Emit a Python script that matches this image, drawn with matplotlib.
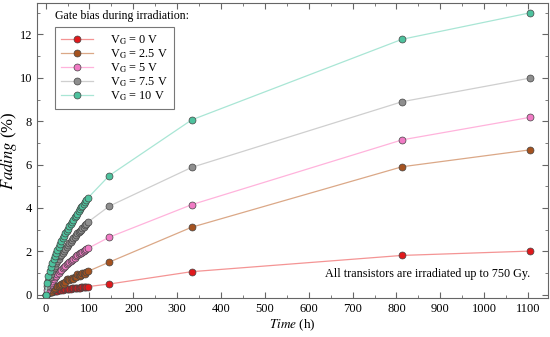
import matplotlib
matplotlib.use('Agg')
import matplotlib.pyplot as plt
from matplotlib.ticker import MultipleLocator

plt.rcParams['font.family'] = ['Liberation Serif', 'DejaVu Serif']
plt.rcParams['mathtext.fontset'] = 'stix'

# dense measurements during the first ~96 h, then a few later readouts
t_dense = [0, 3, 6, 9, 12, 15, 18, 21, 24, 27, 30, 33, 36, 39, 42, 45, 48,
           51, 54, 57, 60, 63, 66, 69, 72, 75, 78, 81, 84, 87, 90, 93, 96]
t_late = [145, 333, 813, 1105]

f_0 = [0, 0.05, 0.08, 0.10, 0.12, 0.14, 0.15, 0.17, 0.18, 0.19, 0.20, 0.21,
       0.22, 0.23, 0.24, 0.25, 0.26, 0.27, 0.27, 0.28, 0.29, 0.30, 0.30, 0.31,
       0.32, 0.32, 0.33, 0.34, 0.34, 0.35, 0.36, 0.36, 0.37]
f_0_late = [0.49, 1.06, 1.81, 2.01]

f_25 = [0, 0.03, 0.06, 0.10, 0.14, 0.20, 0.24, 0.30, 0.38, 0.42, 0.40, 0.45,
        0.50, 0.52, 0.50, 0.60, 0.70, 0.72, 0.66, 0.70, 0.75, 0.72, 0.80, 0.82,
        0.95, 0.92, 0.85, 0.90, 0.98, 1.00, 0.95, 1.05, 1.07]
f_25_late = [1.50, 3.11, 5.90, 6.68]

f_5 = [0, 0.22, 0.35, 0.45, 0.55, 0.63, 0.72, 0.80, 0.87, 0.95, 1.02, 1.08,
       1.15, 1.22, 1.28, 1.34, 1.40, 1.46, 1.52, 1.55, 1.60, 1.66, 1.70, 1.76,
       1.82, 1.88, 1.90, 1.93, 1.97, 2.02, 2.05, 2.10, 2.13]
f_5_late = [2.65, 4.15, 7.14, 8.18]

f_75 = [0, 0.42, 0.63, 0.81, 0.96, 1.10, 1.22, 1.34, 1.45, 1.56, 1.66, 1.76,
        1.85, 1.94, 2.03, 2.12, 2.20, 2.28, 2.36, 2.44, 2.52, 2.60, 2.67, 2.74,
        2.85, 2.90, 2.95, 3.00, 3.06, 3.12, 3.20, 3.28, 3.34]
f_75_late = [4.08, 5.87, 8.90, 9.99]

f_10 = [0, 0.56, 0.84, 1.08, 1.28, 1.46, 1.63, 1.79, 1.94, 2.08, 2.22, 2.35,
        2.47, 2.59, 2.71, 2.83, 2.94, 3.04, 3.15, 3.25, 3.36, 3.46, 3.56, 3.65,
        3.74, 3.84, 3.93, 4.02, 4.11, 4.20, 4.28, 4.37, 4.45]
f_10_late = [5.49, 8.06, 11.78, 13.00]

labels = ['0', '2.5', '5', '7.5', '10']
dense = [f_0, f_25, f_5, f_75, f_10]
late = [f_0_late, f_25_late, f_5_late, f_75_late, f_10_late]
marker_colors = ['#e0191c', '#a5521f', '#f07ac4', '#8e8e8e', '#4ec29e']
line_colors = ['#f49494', '#dba887', '#ffb3dc', '#cfcfcf', '#a9e6d5']

fig = plt.figure(figsize=(5.5, 3.37), dpi=100)
ax = fig.add_axes([0.067, 0.116, 0.929, 0.875])

for lab, yd, yl, mc, lc in zip(labels, dense, late, marker_colors, line_colors):
    x = t_dense + t_late
    y = yd + yl
    ax.plot(x, y, '-o', color=lc, lw=0.9, markersize=5,
            markerfacecolor=mc, markeredgecolor='#444444', markeredgewidth=0.5,
            label=r'V$_\mathrm{G}$ = ' + lab + ' V')

ax.set_xlim(-20, 1145)
ax.set_ylim(-0.15, 13.45)
ax.xaxis.set_major_locator(MultipleLocator(100))
ax.xaxis.set_minor_locator(MultipleLocator(50))
ax.yaxis.set_major_locator(MultipleLocator(2))
ax.yaxis.set_minor_locator(MultipleLocator(1))
ax.tick_params(which='both', direction='in', top=True, right=True,
               labelsize=9, color='#666666')
ax.tick_params(which='major', length=4)
ax.tick_params(which='minor', length=2)
for s in ax.spines.values():
    s.set_color('#666666')
    s.set_linewidth(0.8)

ax.set_xlabel(r'$\mathit{Time}$ (h)', fontsize=9.5, labelpad=2)
ax.set_ylabel(r'$\mathit{Fading}$ (%)', fontsize=12)
ax.yaxis.set_label_coords(-0.034, 0.5)

ax.text(0.035, 0.975, 'Gate bias during irradiation:', transform=ax.transAxes,
        fontsize=8.6, va='top', ha='left')
leg = ax.legend(loc='upper left', bbox_to_anchor=(0.036, 0.918), fontsize=8.8,
                fancybox=False, framealpha=1, edgecolor='#777777',
                handlelength=2.6, borderpad=0.5, labelspacing=0.05,
                borderaxespad=0, handletextpad=1.4)
leg.get_frame().set_linewidth(0.8)

ax.text(0.965, 0.06, 'All transistors are irradiated up to 750 Gy.',
        transform=ax.transAxes, fontsize=8.7, ha='right', va='bottom')

fig.savefig('out.png', dpi=100)
